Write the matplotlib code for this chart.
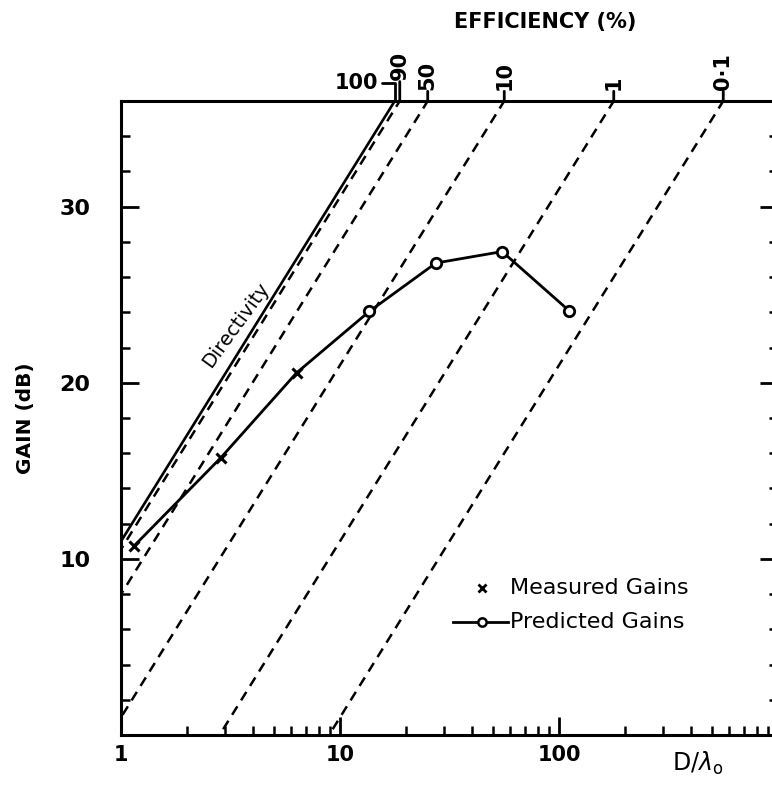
import numpy as np
import matplotlib
matplotlib.use("Agg")
import matplotlib.pyplot as plt
from matplotlib.ticker import FixedLocator, FixedFormatter, LogLocator, MultipleLocator, NullFormatter

plt.rcParams['font.family'] = ['DejaVu Sans']

# Directivity of the aperture: gain (dB) at D/lambda = 1, rising 20 dB per decade
directivity_at_1 = 11.0
directivity_slope = 20.0

# Constant-efficiency reference lines (percent) and their labels
eff_pct = [90, 50, 10, 1, 0.1]
eff_labels = ['90', '50', '10', '1', '0·1']

# Measured gains
measured_d = [1.15, 2.86, 6.33]
measured_g = [10.75, 15.75, 20.56]

# Predicted gains
predicted_d = [13.6, 27.4, 55.0, 111.0]
predicted_g = [24.05, 26.8, 27.45, 24.1]

x_ticks = [1, 10, 100, 1000]
x_ticklabels = ['1', '10', '100', '']
y_ticks = [10, 20, 30]
y_ticklabels = ['10', '20', '30']

W, H = 772, 786
fig = plt.figure(figsize=(W / 100, H / 100), dpi=100)
ax = fig.add_axes([121 / W, 51 / H, 657 / W, 634 / H])
ax.set_xscale('log')
ax.set_xlim(1, 1000)
ax.set_ylim(0, 36)

for s in ax.spines.values():
    s.set_linewidth(2.2)

d_span = np.array([0.5, 2000.0])


def line_gain(d, offset_db=0.0):
    return directivity_at_1 + directivity_slope * np.log10(d) + offset_db


# Directivity (solid) and efficiency lines (dashed)
ax.plot(d_span, line_gain(d_span), color='black', lw=1.9, solid_capstyle='butt')
for e in eff_pct:
    ax.plot(d_span, line_gain(d_span, 10 * np.log10(e / 100.0)), color='black',
            lw=1.8, linestyle=(0, (4, 2.8)), dash_capstyle='butt')

# Predicted-gain curve through all points
all_d = measured_d + predicted_d
all_g = measured_g + predicted_g
ax.plot(all_d, all_g, color='black', lw=2.0)
ax.plot(measured_d, measured_g, linestyle='none', marker='x', ms=7, mew=2.2, color='black')
ax.plot(predicted_d, predicted_g, linestyle='none', marker='o', ms=7.5, mew=2.0,
        mfc='white', mec='black')

# Axis ticks
ax.xaxis.set_major_locator(FixedLocator(x_ticks))
ax.xaxis.set_major_formatter(FixedFormatter(x_ticklabels))
ax.xaxis.set_minor_locator(LogLocator(base=10, subs=np.arange(2, 10)))
ax.xaxis.set_minor_formatter(NullFormatter())
ax.yaxis.set_major_locator(FixedLocator(y_ticks))
ax.yaxis.set_major_formatter(FixedFormatter(y_ticklabels))
ax.yaxis.set_minor_locator(MultipleLocator(2))

ax.tick_params(which='major', direction='in', length=13, width=2, top=False, right=True)
ax.tick_params(which='minor', direction='in', length=6.5, width=1.8, top=False, right=True)
ax.tick_params(axis='x', which='major', pad=7, labelsize=15)
ax.tick_params(axis='y', which='major', pad=22, labelsize=16)
for lab in ax.get_xticklabels() + ax.get_yticklabels():
    lab.set_fontweight('bold')

# Efficiency scale along the top edge
top_g = 36.0
xt = ax.get_xaxis_transform()
for e, lab in zip(eff_pct, eff_labels):
    d_top = 10 ** ((top_g - directivity_at_1 - 10 * np.log10(e / 100.0)) / directivity_slope)
    tl = 14 if e == 90 else 7
    ax.annotate('', xy=(d_top, 1), xycoords=xt, xytext=(0, tl), textcoords='offset points',
                arrowprops=dict(arrowstyle='-', lw=2, shrinkA=0, shrinkB=0), annotation_clip=False)
    ax.annotate(lab, xy=(d_top, 1), xycoords=xt, xytext=(0, tl + 1), textcoords='offset points',
                rotation=90, ha='center', va='bottom', fontsize=15, fontweight='bold',
                annotation_clip=False)

d_100 = 10 ** ((top_g - directivity_at_1) / directivity_slope)
ax.annotate('100', xy=(d_100, 1), xycoords=xt, xytext=(-12, 13), textcoords='offset points',
            ha='right', va='center', fontsize=15, fontweight='bold', annotation_clip=False,
            arrowprops=dict(arrowstyle='-', lw=2, shrinkA=1, shrinkB=0,
                            connectionstyle='angle,angleA=0,angleB=90,rad=0'))

fig.text(545 / W, 1 - 22 / H, 'EFFICIENCY (%)', ha='center', va='center', fontsize=15,
         fontweight='bold')
fig.text(26 / W, 1 - 418 / H, 'GAIN (dB)', ha='center', va='center', rotation=90,
         fontsize=14.5, fontweight='bold')
fig.text(672 / W, 1 - 763 / H, r'$\mathrm{D}/\lambda_\mathrm{o}$', ha='left', va='center',
         fontsize=17)

# Directivity label along the solid line
ax.text(3.35, 23.3, 'Directivity', rotation=54, rotation_mode='anchor',
        ha='center', va='center', fontsize=14)

# Legend
fig.lines.append(plt.Line2D([453 / W, 508 / W], [1 - 622 / H, 1 - 622 / H], color='black',
                            lw=2.0, transform=fig.transFigure))
fig.lines.append(plt.Line2D([482 / W], [1 - 622 / H], color='black', marker='o', ms=6,
                            mew=1.8, mfc='white', transform=fig.transFigure))
fig.lines.append(plt.Line2D([482 / W], [1 - 588 / H], color='black', marker='x', ms=6,
                            mew=2.0, linestyle='none', transform=fig.transFigure))
fig.text(510 / W, 1 - 588 / H, 'Measured Gains', ha='left', va='center', fontsize=16)
fig.text(510 / W, 1 - 622 / H, 'Predicted Gains', ha='left', va='center', fontsize=16)

fig.savefig('out.png', dpi=100)
